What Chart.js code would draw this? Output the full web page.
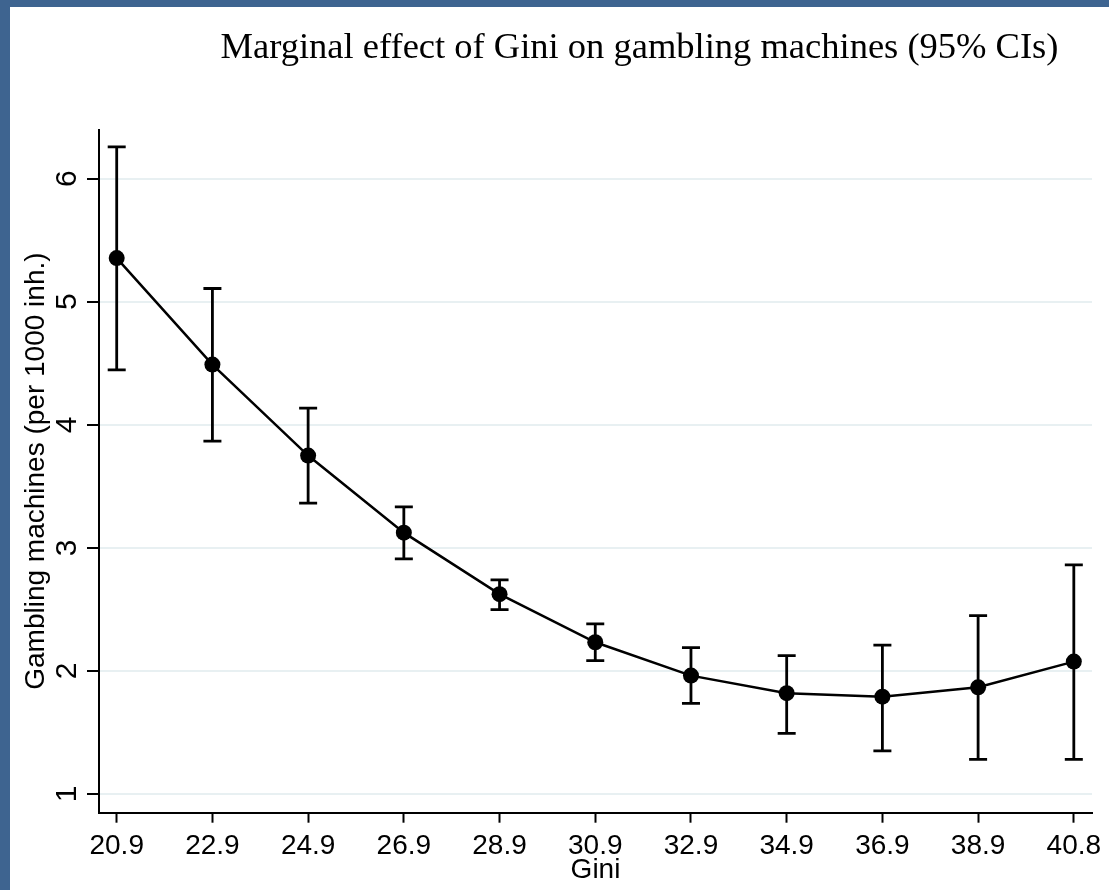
<!DOCTYPE html>
<html>
<head>
<meta charset="utf-8">
<script src="https://cdn.jsdelivr.net/npm/chart.js@4.4.1/dist/chart.umd.min.js"></script>
<style>
  html, body { margin: 0; padding: 0; }
  body { width: 1109px; height: 890px; background: #3e6490; position: relative; overflow: hidden; }
  #frame { position: absolute; left: 10px; top: 7px; width: 1099px; height: 883px; background: #fff; }
  canvas { display: block; }
</style>
</head>
<body>
<div id="frame"><canvas id="chart" width="1099" height="883"></canvas></div>
<script>
// Gini の値（横軸ラベル）
var giniLabels = ['20.9', '22.9', '24.9', '26.9', '28.9', '30.9', '32.9', '34.9', '36.9', '38.9', '40.8'];
// 限界効果（点推定）
var margins = [5.355, 4.49, 3.75, 3.124, 2.624, 2.233, 1.962, 1.819, 1.791, 1.867, 2.076];
// 95% 信頼区間
var ciLow = [4.447, 3.867, 3.364, 2.911, 2.498, 2.084, 1.737, 1.493, 1.350, 1.282, 1.282];
var ciHigh = [6.258, 5.108, 4.136, 3.333, 2.740, 2.382, 2.189, 2.124, 2.209, 2.450, 2.862];
// 縦軸目盛り
var yTicks = [1, 2, 3, 4, 5, 6];

var titleText = 'Marginal effect of Gini on gambling machines (95% CIs)';
var sansFont = '"Liberation Sans", Arial, sans-serif';

// エラーバー（信頼区間）を描画
var errorBarPlugin = {
  id: 'errorBars',
  beforeDatasetsDraw: function(chart) {
    var ctx = chart.ctx;
    var xs = chart.scales.x;
    var ys = chart.scales.y;
    ctx.save();
    ctx.strokeStyle = '#000';
    ctx.lineWidth = 2.8;
    for (var i = 0; i < margins.length; i++) {
      var px = xs.getPixelForValue(i);
      var top = ys.getPixelForValue(ciHigh[i]);
      var bot = ys.getPixelForValue(ciLow[i]);
      ctx.beginPath();
      ctx.moveTo(px, top); ctx.lineTo(px, bot);
      ctx.moveTo(px - 9, top); ctx.lineTo(px + 9, top);
      ctx.moveTo(px - 9, bot); ctx.lineTo(px + 9, bot);
      ctx.stroke();
    }
    ctx.restore();
  }
};

// 縦軸ラベル（90度回転）とタイトル
var textPlugin = {
  id: 'texts',
  afterDraw: function(chart) {
    var ctx = chart.ctx;
    var ys = chart.scales.y;
    ctx.save();
    ctx.fillStyle = '#000';
    ctx.font = '30px ' + sansFont;
    ctx.textAlign = 'center';
    ctx.textBaseline = 'alphabetic';
    yTicks.forEach(function(v) {
      ctx.save();
      ctx.translate(66, ys.getPixelForValue(v));
      ctx.rotate(-Math.PI / 2);
      ctx.fillText(String(v), 0, 0);
      ctx.restore();
    });
    ctx.font = '36.5px "Liberation Serif", "Times New Roman", serif';
    ctx.textAlign = 'center';
    ctx.fillText(titleText, 629.5, 51);
    ctx.restore();
  }
};

var chart = new Chart(document.getElementById('chart').getContext('2d'), {
  type: 'line',
  data: {
    datasets: [{
      label: 'Marginal effect',
      data: margins.map(function(v, i) { return { x: i, y: v }; }),
      borderColor: '#000',
      borderWidth: 2.5,
      backgroundColor: '#000',
      pointBackgroundColor: '#000',
      pointBorderWidth: 0,
      pointRadius: 8,
      tension: 0,
      fill: false
    }]
  },
  options: {
    responsive: false,
    animation: false,
    layout: { padding: { top: 122.5, right: 17, bottom: 0, left: 0 } },
    plugins: {
      legend: { display: false },
      tooltip: { enabled: false },
      title: { display: false }
    },
    scales: {
      x: {
        type: 'linear',
        min: -0.185,
        max: 10.19,
        afterBuildTicks: function(scale) {
          scale.ticks = giniLabels.map(function(l, i) { return { value: i }; });
        },
        afterFit: function(scale) { scale.height = 77.3; },
        ticks: {
          stepSize: 1,
          includeBounds: false,
          autoSkip: false,
          maxRotation: 0,
          padding: 7,
          color: '#000',
          font: { family: sansFont, size: 28 },
          callback: function(value) { return giniLabels[value]; }
        },
        grid: {
          drawOnChartArea: false,
          drawTicks: true,
          tickLength: 10,
          tickColor: '#000',
          tickWidth: 2
        },
        border: { display: true, color: '#000', width: 2 },
        title: {
          display: true,
          text: 'Gini',
          color: '#000',
          font: { family: sansFont, size: 28 },
          padding: { top: 0, bottom: 3 }
        }
      },
      y: {
        type: 'linear',
        min: 0.848,
        max: 6.40,
        afterBuildTicks: function(scale) {
          scale.ticks = yTicks.map(function(v) { return { value: v }; });
        },
        afterFit: function(scale) { scale.width = 89; },
        ticks: { display: false, stepSize: 1, includeBounds: false },
        grid: {
          color: '#e8f0f2',
          lineWidth: 2,
          drawTicks: true,
          tickLength: 12,
          tickColor: '#000',
          tickWidth: 2
        },
        border: { display: true, color: '#000', width: 2 },
        title: {
          display: true,
          text: 'Gambling machines (per 1000 inh.)',
          color: '#000',
          font: { family: sansFont, size: 28 },
          padding: { top: 9, bottom: 0 }
        }
      }
    }
  },
  plugins: [errorBarPlugin, textPlugin]
});
</script>
</body>
</html>
